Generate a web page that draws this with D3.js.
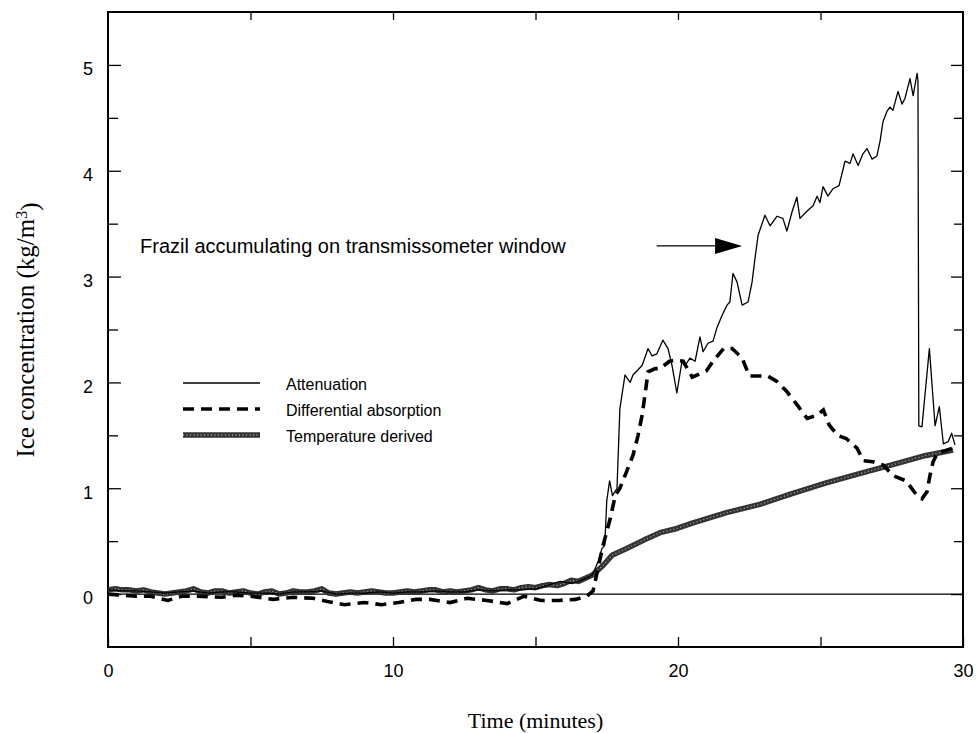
<!DOCTYPE html>
<html>
<head>
<meta charset="utf-8">
<script src="https://cdn.jsdelivr.net/npm/d3@7/dist/d3.min.js"></script>
<style>
  html, body { margin: 0; padding: 0; background: #fff; }
  svg { display: block; }
</style>
</head>
<body>
<svg id="chart" width="979" height="733"></svg>
<script>
// Ice concentration during a frazil run: three estimates against time.

// Time axis (minutes)
const xTickValues = [0, 5, 10, 15, 20, 25, 30];
const xTickLabels = [0, 10, 20, 30];
// Concentration axis (kg/m^3)
const yTickValues = [0, 0.5, 1, 1.5, 2, 2.5, 3, 3.5, 4, 4.5, 5];
const yTickLabels = [0, 1, 2, 3, 4, 5];

const seriesNames = ["Attenuation", "Differential absorption", "Temperature derived"];

// [minutes, kg/m^3]
const attenuation = [
  [0, 0.04], [0.5, 0.03], [1, 0.03], [1.5, 0.02], [2, 0.01], [2.5, 0.02], [3, 0.03], [3.5, 0.01],
  [4, 0.02], [4.5, 0.02], [5, 0.01], [5.5, 0.01], [6, 0.0], [6.5, 0.02], [7, 0.02], [7.5, 0.03],
  [8, 0.0], [8.5, 0.01], [9, 0.01], [9.5, 0.02], [10, 0.01], [10.5, 0.02], [11, 0.02], [11.5, 0.03],
  [12, 0.02], [12.5, 0.02], [13, 0.04], [13.5, 0.03], [14, 0.04], [14.5, 0.04], [15, 0.05], [15.5, 0.09],
  [15.86, 0.12], [16.3, 0.1], [16.6, 0.13], [17.0, 0.18], [17.2, 0.31], [17.33, 0.43], [17.43, 0.46],
  [17.5, 0.88], [17.6, 1.07], [17.7, 0.93], [17.86, 1.0], [17.96, 1.75], [18.14, 2.07], [18.32, 2.0],
  [18.42, 2.07], [18.74, 2.16], [18.95, 2.32], [19.09, 2.25], [19.26, 2.27], [19.47, 2.4], [19.65, 2.32],
  [19.79, 2.16], [19.96, 1.9], [20.14, 2.2], [20.25, 2.16], [20.42, 2.23], [20.6, 2.2], [20.77, 2.43],
  [20.88, 2.29], [21.05, 2.37], [21.23, 2.39], [21.37, 2.52], [21.54, 2.63], [21.72, 2.73], [21.82, 2.76],
  [21.93, 3.03], [22.07, 2.95], [22.25, 2.73], [22.46, 2.76], [22.6, 2.95], [22.7, 3.17], [22.81, 3.39],
  [23.05, 3.58], [23.23, 3.48], [23.47, 3.57], [23.68, 3.55], [23.82, 3.43], [24.0, 3.61], [24.17, 3.75],
  [24.28, 3.55], [24.53, 3.62], [24.74, 3.67], [24.88, 3.76], [24.98, 3.7], [25.09, 3.85], [25.26, 3.76],
  [25.44, 3.83], [25.65, 3.86], [25.86, 4.09], [26.04, 4.07], [26.14, 4.16], [26.32, 4.05], [26.49, 4.16],
  [26.63, 4.21], [26.81, 4.11], [26.98, 4.14], [27.09, 4.28], [27.19, 4.46], [27.33, 4.56], [27.44, 4.6],
  [27.54, 4.57], [27.72, 4.75], [27.86, 4.63], [27.96, 4.68], [28.14, 4.87], [28.25, 4.71], [28.39, 4.92],
  [28.42, 4.85], [28.45, 1.59], [28.56, 1.58], [28.82, 2.32], [29.02, 1.59], [29.17, 1.77], [29.31, 1.42],
  [29.48, 1.44], [29.6, 1.52], [29.72, 1.41]
];

const differentialAbsorption = [
  [0, 0.0], [0.5, -0.01], [1, -0.02], [1.5, -0.02], [2.1, -0.06], [2.6, -0.02], [3, -0.02], [4, -0.03],
  [4.5, -0.01], [5, -0.02], [5.8, -0.05], [6.5, -0.03], [7.2, -0.04], [7.7, -0.07], [8.3, -0.1], [9, -0.08],
  [9.6, -0.1], [10.2, -0.08], [10.8, -0.05], [11.3, -0.05], [12, -0.08], [12.6, -0.04], [13.3, -0.06],
  [14, -0.09], [14.6, -0.02], [15.2, -0.06], [15.8, -0.06], [16.4, -0.05], [16.8, -0.02], [17.02, 0.03],
  [17.2, 0.25], [17.37, 0.46], [17.6, 0.69], [17.8, 0.93], [17.96, 1.0], [18.2, 1.16], [18.42, 1.31],
  [18.6, 1.5], [18.74, 1.69], [18.84, 1.88], [18.95, 2.1], [19.2, 2.13], [19.37, 2.13], [19.7, 2.2],
  [19.9, 2.21], [20.18, 2.2], [20.5, 2.05], [21.0, 2.11], [21.23, 2.2], [21.6, 2.32], [21.9, 2.32],
  [22.25, 2.23], [22.5, 2.06], [22.75, 2.06], [23.15, 2.06], [23.47, 2.01], [23.8, 1.92], [24.2, 1.78],
  [24.53, 1.66], [24.88, 1.69], [25.1, 1.74], [25.3, 1.6], [25.6, 1.5], [25.9, 1.47], [26.28, 1.38],
  [26.5, 1.26], [26.84, 1.25], [27.2, 1.22], [27.54, 1.12], [28.0, 1.07], [28.39, 0.93], [28.56, 0.9],
  [28.74, 0.97], [28.84, 1.12], [28.95, 1.25], [29.1, 1.33], [29.65, 1.38]
];

const temperatureDerived = [
  [0, 0.04], [0.25, 0.05], [0.5, 0.04], [0.75, 0.04], [1, 0.03], [1.25, 0.04], [1.5, 0.02], [1.75, 0.01],
  [2, 0.0], [2.25, 0.01], [2.5, 0.02], [2.75, 0.03], [3, 0.05], [3.25, 0.02], [3.5, 0.01], [3.75, 0.03],
  [4, 0.03], [4.25, 0.01], [4.5, 0.02], [4.75, 0.03], [5, 0.01], [5.25, 0.0], [5.5, 0.02], [5.75, 0.03],
  [6, 0.0], [6.25, 0.01], [6.5, 0.03], [6.75, 0.02], [7, 0.02], [7.25, 0.03], [7.5, 0.05], [7.75, 0.01],
  [8, 0.0], [8.25, 0.01], [8.5, 0.02], [8.75, 0.01], [9, 0.02], [9.25, 0.03], [9.5, 0.02], [9.75, 0.01],
  [10, 0.01], [10.25, 0.02], [10.5, 0.03], [10.75, 0.02], [11, 0.03], [11.25, 0.04], [11.5, 0.04], [11.75, 0.02],
  [12, 0.03], [12.25, 0.02], [12.5, 0.03], [12.75, 0.04], [13, 0.06], [13.25, 0.04], [13.5, 0.03], [13.75, 0.05],
  [14, 0.05], [14.25, 0.04], [14.5, 0.06], [14.75, 0.07], [15, 0.06], [15.25, 0.08], [15.5, 0.09], [15.75, 0.08],
  [16, 0.1], [16.25, 0.13], [16.5, 0.12], [16.75, 0.15], [17.0, 0.18], [17.37, 0.27], [17.7, 0.37],
  [18.2, 0.43], [18.8, 0.51], [19.37, 0.58], [19.96, 0.62], [20.5, 0.67], [21.1, 0.72], [21.7, 0.77],
  [22.9, 0.85], [24.0, 0.95], [25.2, 1.05], [26.4, 1.14], [27.5, 1.22], [28.7, 1.31], [29.65, 1.36]
];

const annotationText = "Frazil accumulating on transmissometer window";

const svg = d3.select("#chart");

const x = d3.scaleLinear().domain([0, 30]).range([108, 963]);
const y = d3.scaleLinear().domain([-0.5, 5.5]).range([647, 12]);

const sans = "'Liberation Sans', Arial, Helvetica, sans-serif";
const serif = "'Liberation Serif', 'Times New Roman', Times, serif";

const tempDark = "#333";
const tempSpeckle = "#a8a8a8";

// ---- axes: inward ticks on all four sides ----
function styleAxis(g) {
  g.select(".domain").remove();
  g.selectAll(".tick line").attr("stroke", "#000").attr("stroke-width", 1.3);
  g.selectAll(".tick text").attr("fill", "#000").style("font-family", sans).style("font-size", "18px");
}

// bottom
svg.append("g")
  .attr("transform", `translate(0,${y.range()[0]})`)
  .call(d3.axisBottom(x).tickValues(xTickValues).tickSizeInner(-10).tickSizeOuter(0).tickPadding(17)
    .tickFormat(d => xTickLabels.includes(d) ? d3.format("d")(d) : ""))
  .call(styleAxis);

// top
svg.append("g")
  .attr("transform", `translate(0,${y.range()[1]})`)
  .call(d3.axisTop(x).tickValues(xTickValues.slice(1, -1)).tickSizeInner(-8).tickSizeOuter(0).tickFormat(""))
  .call(styleAxis);

// left
const leftAxis = svg.append("g")
  .attr("transform", `translate(${x.range()[0]},0)`)
  .call(d3.axisLeft(y).tickValues(yTickValues).tickSizeInner(-13).tickSizeOuter(0).tickPadding(15)
    .tickFormat(d => yTickLabels.includes(d) ? d3.format("d")(d) : ""))
  .call(styleAxis);
leftAxis.selectAll(".tick line").attr("x2", d => Number.isInteger(d) ? 13 : 10);
leftAxis.selectAll(".tick text").attr("dy", "0.55em");

// right
const rightAxis = svg.append("g")
  .attr("transform", `translate(${x.range()[1]},0)`)
  .call(d3.axisRight(y).tickValues(yTickValues).tickSizeInner(-12).tickSizeOuter(0).tickFormat(""))
  .call(styleAxis);
rightAxis.selectAll(".tick line").attr("x2", d => Number.isInteger(d) ? -12 : -9);

// frame
svg.append("rect")
  .attr("x", x.range()[0]).attr("y", y.range()[1])
  .attr("width", x.range()[1] - x.range()[0])
  .attr("height", y.range()[0] - y.range()[1])
  .attr("fill", "none").attr("stroke", "#000").attr("stroke-width", 2);

// zero reference line
svg.append("line")
  .attr("x1", x(0)).attr("x2", x(30))
  .attr("y1", y(0)).attr("y2", y(0))
  .attr("stroke", "#000").attr("stroke-width", 1.4);

// ---- series ----
const line = d3.line().x(d => x(d[0])).y(d => y(d[1]));

const plot = svg.append("g");

// temperature derived: thick speckled grey trace
plot.append("path").datum(temperatureDerived)
  .attr("d", line).attr("fill", "none")
  .attr("stroke", tempDark).attr("stroke-width", 5.5).attr("stroke-linejoin", "round");
plot.append("path").datum(temperatureDerived)
  .attr("d", line).attr("fill", "none")
  .attr("stroke", tempSpeckle).attr("stroke-width", 1.3).attr("stroke-dasharray", "1,2.5");

// differential absorption: heavy dashes
plot.append("path").datum(differentialAbsorption)
  .attr("d", line).attr("fill", "none")
  .attr("stroke", "#000").attr("stroke-width", 3.6).attr("stroke-dasharray", "11,7");

// attenuation: thin solid trace
plot.append("path").datum(attenuation)
  .attr("d", line).attr("fill", "none")
  .attr("stroke", "#000").attr("stroke-width", 1.3).attr("stroke-linejoin", "round");

// ---- legend ----
const legend = svg.append("g").attr("transform", "translate(183,384)");
const legendRows = legend.selectAll("g").data(seriesNames).join("g")
  .attr("transform", (d, i) => `translate(0,${i * 26})`);

legendRows.each(function (name, i) {
  const g = d3.select(this);
  if (i === 0) {
    g.append("line").attr("x1", 0).attr("x2", 77).attr("y1", -1).attr("y2", -1)
      .attr("stroke", "#000").attr("stroke-width", 1.3);
  } else if (i === 1) {
    g.append("line").attr("x1", 0).attr("x2", 77).attr("y1", -1).attr("y2", -1)
      .attr("stroke", "#000").attr("stroke-width", 3.6).attr("stroke-dasharray", "11,7");
  } else {
    g.append("line").attr("x1", 0).attr("x2", 77).attr("y1", -1).attr("y2", -1)
      .attr("stroke", tempDark).attr("stroke-width", 5.5);
    g.append("line").attr("x1", 0).attr("x2", 77).attr("y1", -1).attr("y2", -1)
      .attr("stroke", tempSpeckle).attr("stroke-width", 1.3).attr("stroke-dasharray", "1,2.5");
  }
  g.append("text").attr("x", 103).attr("y", 0).attr("dy", "0.35em")
    .style("font-family", sans).style("font-size", "16px").attr("fill", "#000")
    .text(name);
});

// ---- annotation with arrow ----
const arrowY = y(3.29);
svg.append("text")
  .attr("x", 140).attr("y", arrowY).attr("dy", "0.35em")
  .style("font-family", sans).style("font-size", "20px").attr("fill", "#000")
  .text(annotationText);

svg.append("line")
  .attr("x1", x(19.25)).attr("x2", x(21.3))
  .attr("y1", arrowY).attr("y2", arrowY)
  .attr("stroke", "#000").attr("stroke-width", 1.4);
svg.append("path")
  .attr("d", `M${x(21.3)},${arrowY - 8} L${x(22.25)},${arrowY} L${x(21.3)},${arrowY + 8} Z`)
  .attr("fill", "#000");

// ---- axis titles ----
svg.append("text")
  .attr("x", (x.range()[0] + x.range()[1]) / 2)
  .attr("y", 728)
  .attr("text-anchor", "middle")
  .style("font-family", serif).style("font-size", "22px").attr("fill", "#000")
  .text("Time (minutes)");

const yTitle = svg.append("text")
  .attr("transform", "translate(34,330) rotate(-90)")
  .attr("text-anchor", "middle")
  .style("font-family", serif).style("font-size", "25px").attr("fill", "#000");
yTitle.append("tspan").text("Ice concentration (kg/m");
yTitle.append("tspan").attr("dy", "-0.45em").style("font-size", "16px").text("3");
yTitle.append("tspan").attr("dy", "0.45em").text(")");
</script>
</body>
</html>
